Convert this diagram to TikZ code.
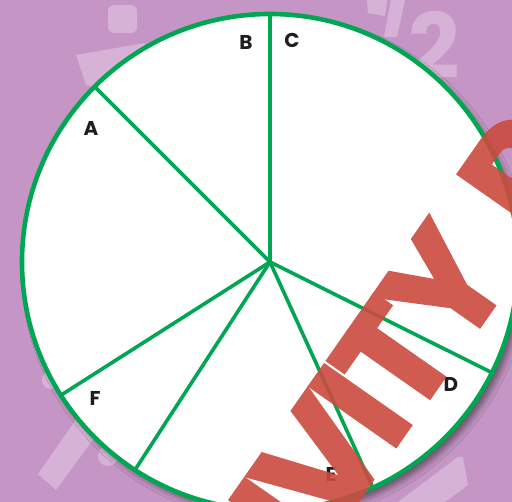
\documentclass[tikz,border=0pt]{standalone}
\usepackage{fontspec}
\usepackage{tikz}
\usetikzlibrary{calc,shadows.blur}
\newfontfamily\labelfont{Poppins}
\newfontfamily\stampfont{Poppins}[BoldFeatures={FakeBold=2},LetterSpace=-5]
\definecolor{bgpurple}{HTML}{C596C5}
\definecolor{ghost}{HTML}{D6B3D6}
\definecolor{piegreen}{HTML}{00A651}
\definecolor{stampred}{HTML}{CB4B3F}
\definecolor{inkblack}{HTML}{1E1E1E}

\begin{document}
\begin{tikzpicture}[x=1pt,y=1pt,
  spoke/.style={piegreen,line width=3.6pt},
  slicelabel/.style={inkblack,inner sep=0pt,font=\labelfont\bfseries\fontsize{20}{20}\selectfont},
  stamp/.style={stampred,rotate=55,inner sep=0pt,
    font=\stampfont\bfseries\fontsize{150}{150}\selectfont}]
  %% Canvas: 1 unit = 1 px of the 512 x 502 frame
  \useasboundingbox (0,0) rectangle (512,502);
  \clip (0,0) rectangle (512,502);
  \fill[bgpurple] (0,0) rectangle (512,502);

  % Faint background shapes
  \fill[ghost,rounded corners=6pt] (108,469) rectangle (137,497);
  \fill[ghost] (76,447) -- (145,459) -- (145,402) -- (86,417) -- cycle;
  \fill[ghost] (38,28) -- (56,12) -- (100,72) -- (80,88) -- cycle;
  \fill[ghost] (51,122) circle (9);
  \fill[ghost] (108,46) circle (10);
  \fill[ghost] (398,0) -- (458,45) -- (463,45) -- (468,17) -- (445,0) -- cycle;
  \fill[ghost] (367,502) -- (387,502) -- (385,486) -- (368,489) -- cycle;
  \fill[ghost] (391,502) -- (405,502) -- (397,465) -- (384,465) -- cycle;
  \node[ghost,inner sep=0pt,font=\labelfont\bfseries\fontsize{90}{90}\selectfont]
    (halftwo) at (434,457) {2};

  %% Pie: centre and rim points of the six spokes
  \coordinate (O) at (270,240);
  \fill[white,blur shadow={shadow xshift=5pt,shadow yshift=-6pt,
    shadow blur radius=6pt,shadow opacity=45}] (O) circle (248);
  \foreach \a [count=\i] in {90,135,212.5,237,294.5,333.5}{
    \path (O) ++(\a:248) coordinate (rim\i);
    \draw[spoke] (O) -- (rim\i);
  }
  \draw[piegreen,line width=4.6pt] (O) circle (248);

  % Slice labels
  \node[slicelabel] (labA) at (91,374) {A};
  \node[slicelabel] (labB) at (246,460) {B};
  \node[slicelabel] (labC) at (292,462) {C};
  \node[slicelabel] (labD) at (451,118) {D};
  \node[slicelabel] (labE) at (331,28) {E};
  \node[slicelabel] (labF) at (95,104) {F};

  %% Red stamp across the lower right
  \begin{scope}[transparency group,opacity=0.9]
    \node[stamp,anchor=base east] (stampmain) at (516,227) {ACTIVITY};
    \node[stamp,anchor=base west] (stampnext)
      at ($(stampmain.base east)+(55:40)$) {P};
  \end{scope}
\end{tikzpicture}
\end{document}
